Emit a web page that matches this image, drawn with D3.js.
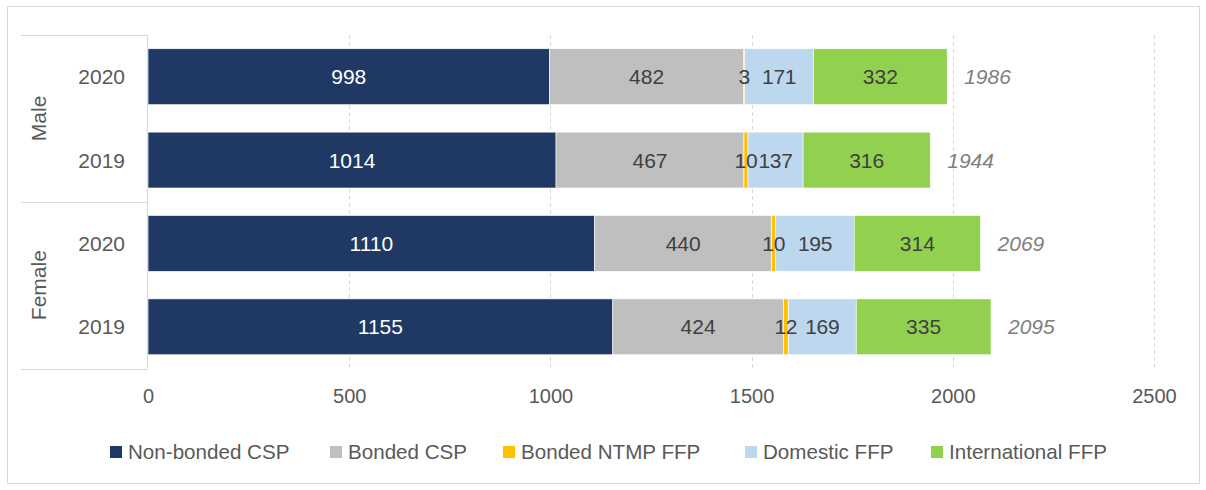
<!DOCTYPE html>
<html><head><meta charset="utf-8">
<script src="https://cdn.jsdelivr.net/npm/d3@7"></script>
<style>
html,body{margin:0;padding:0;background:#fff;}
svg{display:block;font-family:"Liberation Sans",Arial,sans-serif;}
</style></head>
<body>
<svg id="chart" width="1206" height="490"></svg>
<script>
const groups = ["Male", "Male", "Female", "Female"];
const years = ["2020", "2019", "2020", "2019"];
const seriesNames = ["Non-bonded CSP", "Bonded CSP", "Bonded NTMP FFP", "Domestic FFP", "International FFP"];
const nonBondedCSP = [998, 1014, 1110, 1155];
const bondedCSP = [482, 467, 440, 424];
const bondedNTMP = [3, 10, 10, 12];
const domesticFFP = [171, 137, 195, 169];
const internationalFFP = [332, 316, 314, 335];
const totals = [1986, 1944, 2069, 2095];
const xTicks = [0, 500, 1000, 1500, 2000, 2500];
const colors = ["#203864", "#BFBFBF", "#FFC000", "#BDD7EE", "#92D050"];
const labelColors = ["#ffffff", "#404040", "#404040", "#404040", "#404040"];

const seriesValues = [nonBondedCSP, bondedCSP, bondedNTMP, domesticFFP, internationalFFP];
const rows = years.map((y, i) => {
  const r = {key: i, group: groups[i], year: y};
  seriesNames.forEach((s, j) => r[s] = seriesValues[j][i]);
  return r;
});

const svg = d3.select("#chart");
const plotTop = 35, plotBottom = 368.5, x0 = 148, x1 = 1154;

// outer border
svg.append("rect").attr("x", 7.5).attr("y", 6.5).attr("width", 1192).attr("height", 477)
  .attr("fill", "none").attr("stroke", "#d9d9d9");

const x = d3.scaleLinear().domain([0, 2500]).range([x0, x1]);
const y = d3.scaleBand().domain(rows.map(r => r.key)).range([plotTop, plotBottom]).paddingInner(0.33).paddingOuter(0.165);

// gridlines
svg.append("g").selectAll("line").data(xTicks.slice(1)).join("line")
  .attr("x1", d => Math.round(x(d)) + 0.5).attr("x2", d => Math.round(x(d)) + 0.5)
  .attr("y1", plotTop).attr("y2", plotBottom)
  .attr("stroke", "#d9d9d9").attr("stroke-dasharray", "4,3");

// stacked bars
const stack = d3.stack().keys(seriesNames)(rows);
const layers = svg.append("g").selectAll("g").data(stack).join("g")
  .attr("fill", (d, i) => colors[i]);
layers.selectAll("rect").data(d => d).join("rect")
  .attr("x", d => x(d[0])).attr("width", d => x(d[1]) - x(d[0]))
  .attr("y", d => y(d.data.key)).attr("height", y.bandwidth())
  .attr("stroke", "#ffffff").attr("stroke-width", 0.6);

// value labels
const lab = svg.append("g").attr("font-size", 21);
stack.forEach((layer, i) => {
  lab.selectAll(null).data(layer).join("text")
    .attr("x", d => (x(d[0]) + x(d[1])) / 2)
    .attr("y", d => y(d.data.key) + y.bandwidth() / 2)
    .attr("dy", "0.36em").attr("text-anchor", "middle")
    .attr("fill", labelColors[i])
    .attr("letter-spacing", i === 2 || i === 3 ? -0.3 : 0)
    .text(d => d[1] - d[0]);
});

// totals
svg.append("g").selectAll("text").data(rows).join("text")
  .attr("x", (d, i) => x(totals[i]) + 17)
  .attr("y", d => y(d.key) + y.bandwidth() / 2)
  .attr("dy", "0.36em").attr("font-size", 21).attr("font-style", "italic")
  .attr("fill", "#7f7f7f")
  .text((d, i) => totals[i]);

// x axis
const xAxis = svg.append("g").attr("transform", `translate(0,${plotBottom})`)
  .call(d3.axisBottom(x).tickValues(xTicks).tickSize(0).tickPadding(20).tickFormat(d3.format("d")));
xAxis.select(".domain").remove();
xAxis.selectAll("text").attr("font-size", 20).attr("fill", "#595959").attr("font-family", "Liberation Sans, Arial, sans-serif");

// left category axis structure
const gl = svg.append("g").attr("stroke", "#d9d9d9").attr("stroke-width", 1.2);
gl.append("line").attr("x1", 147.5).attr("x2", 147.5).attr("y1", plotTop).attr("y2", plotBottom);
const groupNames = [...new Set(groups)];
const groupBounds = groupNames.map(g => {
  const ks = rows.filter(r => r.group === g).map(r => r.key);
  return {g, top: y(ks[0]) - y.step() * y.paddingInner() / 2, bottom: y(ks[ks.length - 1]) + y.bandwidth() + y.step() * y.paddingInner() / 2};
});
const bounds = [plotTop, (groupBounds[0].bottom + groupBounds[1].top) / 2, plotBottom];
gl.selectAll(null).data(bounds).join("line")
  .attr("x1", 21).attr("x2", 147.5).attr("y1", d => Math.round(d) + 0.5).attr("y2", d => Math.round(d) + 0.5);

// year labels
svg.append("g").selectAll("text").data(rows).join("text")
  .attr("x", 125).attr("y", d => y(d.key) + y.bandwidth() / 2)
  .attr("dy", "0.36em").attr("text-anchor", "end").attr("font-size", 21).attr("fill", "#595959")
  .text(d => d.year);

// group labels
svg.append("g").selectAll("text").data(groupNames).join("text")
  .attr("transform", (g, i) => {
    const ks = rows.filter(r => r.group === g).map(r => r.key);
    const cy = (y(ks[0]) + y(ks[ks.length - 1]) + y.bandwidth()) / 2;
    return `translate(38,${cy}) rotate(-90)`;
  })
  .attr("dy", "0.36em").attr("text-anchor", "middle").attr("font-size", 21).attr("fill", "#595959")
  .text(d => d);

// legend
const legendX = [110, 330, 503, 745, 931];
const lg = svg.append("g").selectAll("g").data(seriesNames).join("g")
  .attr("transform", (d, i) => `translate(${legendX[i]},452)`);
lg.append("rect").attr("x", 0).attr("y", -6).attr("width", 12).attr("height", 12).attr("fill", (d, i) => colors[i]);
lg.append("text").attr("x", 18).attr("dy", "0.36em").attr("font-size", 20.6).attr("fill", "#595959").text(d => d);
</script>
</body></html>
